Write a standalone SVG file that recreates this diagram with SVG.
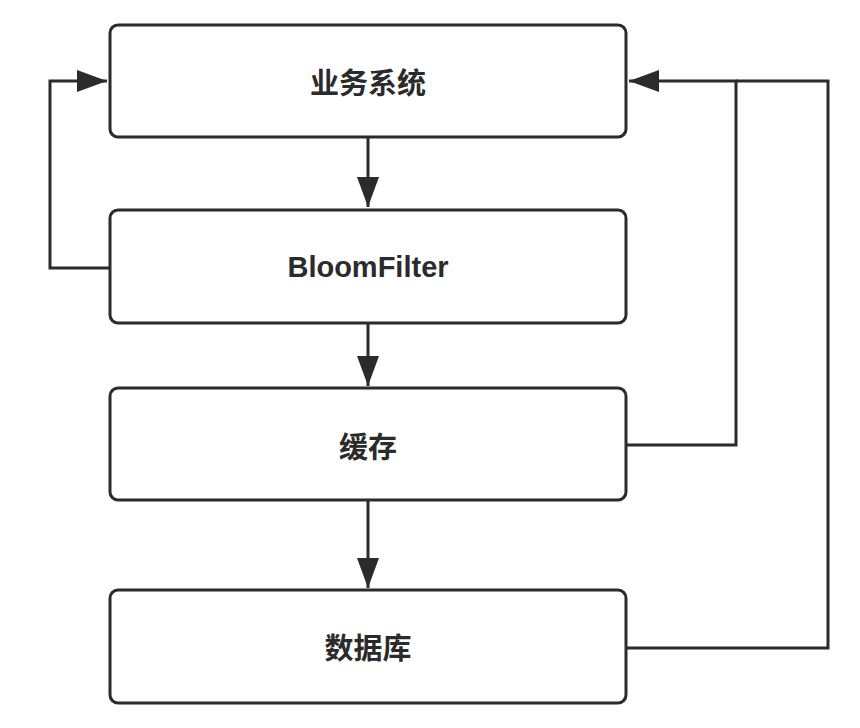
<svg xmlns="http://www.w3.org/2000/svg" width="860" height="728" viewBox="0 0 860 728">
<style>
.box{fill:#ffffff;stroke:#2b2b2b;stroke-width:3}
.lbl{font-family:"Liberation Sans","Noto Sans CJK SC",sans-serif;font-weight:bold;fill:#2b2b2b;text-anchor:middle;dominant-baseline:central}
.cjk{font-family:"Noto Sans CJK SC",sans-serif;font-size:29px}
.lat{font-size:29px}
.edge{fill:none;stroke:#2b2b2b;stroke-width:3;stroke-linejoin:miter}
</style>
<defs>
<marker id="ah" markerUnits="userSpaceOnUse" markerWidth="30" markerHeight="22" refX="30" refY="11" orient="auto" viewBox="0 0 30 22">
<path d="M0,0 L30,11 L0,22 z" fill="#2b2b2b"/>
</marker>
</defs>
<rect width="860" height="728" fill="#ffffff"/>
<g id="connectors">
<path class="edge" d="M368,137 L368,207" marker-end="url(#ah)"/>
<path class="edge" d="M368,323 L368,386" marker-end="url(#ah)"/>
<path class="edge" d="M368,500 L368,588" marker-end="url(#ah)"/>
<path class="edge" d="M110,268 L50,268 L50,81 L107,81" marker-end="url(#ah)"/>
<path class="edge" d="M626,445 L736,445 L736,81 L629,81" marker-end="url(#ah)"/>
<path class="edge" d="M626,648 L828,648 L828,81 L736,81"/>
</g>
<g id="node-business">
<rect class="box" x="110" y="25" width="516" height="112" rx="8"/>
<text class="lbl cjk" x="368" y="81">业务系统</text>
</g>
<g id="node-bloomfilter">
<rect class="box" x="110" y="210" width="516" height="113" rx="8"/>
<text class="lbl lat" x="368" y="267">BloomFilter</text>
</g>
<g id="node-cache">
<rect class="box" x="110" y="388" width="516" height="112" rx="8"/>
<text class="lbl cjk" x="368" y="445">缓存</text>
</g>
<g id="node-db">
<rect class="box" x="110" y="590" width="516" height="113" rx="8"/>
<text class="lbl cjk" x="368" y="646">数据库</text>
</g>
</svg>
